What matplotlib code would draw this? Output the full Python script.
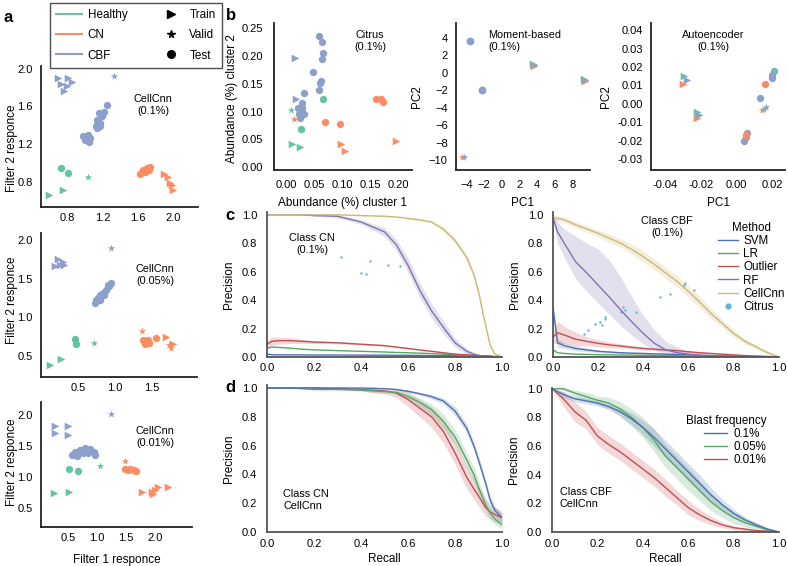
import numpy as np
import matplotlib
matplotlib.use("Agg")
import matplotlib.pyplot as plt
from matplotlib.lines import Line2D
from matplotlib.ticker import FormatStrFormatter

plt.rcParams['font.family'] = ['Liberation Sans', 'DejaVu Sans']

W, H = 788, 566

# ---------------- panel a : filter responses (x, y) ----------------
a1_cbf_train = [(0.69, 1.90), (0.81, 1.90), (0.73, 1.84), (0.85, 1.86), (0.80, 1.82), (0.76, 1.76)]
a1_cbf_valid = [(1.33, 1.92)]
a1_cbf_test = [(0.98, 1.28), (1.03, 1.30), (1.00, 1.24), (1.06, 1.26), (1.04, 1.22), (1.13, 1.37),
               (1.15, 1.41), (1.17, 1.42), (1.14, 1.46), (1.19, 1.50), (1.16, 1.53), (1.21, 1.54),
               (1.25, 1.62), (1.17, 1.39), (1.12, 1.39)]
a1_hea_train = [(0.59, 0.66), (0.75, 0.71)]
a1_hea_valid = [(1.03, 0.85)]
a1_hea_test = [(0.73, 0.94), (0.81, 0.89)]
a1_cn_train = [(1.90, 0.88), (1.94, 0.85), (1.96, 0.79), (1.99, 0.76), (2.00, 0.71)]
a1_cn_valid = [(1.70, 0.93)]
a1_cn_test = [(1.62, 0.88), (1.66, 0.92), (1.70, 0.94), (1.74, 0.96), (1.64, 0.90), (1.72, 0.92), (1.68, 0.90)]

a2_cbf_train = [(0.23, 1.76), (0.19, 1.66), (0.26, 1.68), (0.30, 1.71), (0.31, 1.68)]
a2_cbf_valid = [(0.95, 1.89)]
a2_cbf_test = [(0.73, 1.18), (0.78, 1.25), (0.80, 1.29), (0.84, 1.31), (0.89, 1.35), (0.91, 1.42),
               (0.95, 1.44), (0.80, 1.22), (0.75, 1.22), (0.86, 1.29), (0.93, 1.40), (0.82, 1.27)]
a2_hea_train = [(0.12, 0.38), (0.27, 0.46)]
a2_hea_valid = [(0.72, 0.67)]
a2_hea_test = [(0.46, 0.72), (0.48, 0.66)]
a2_cn_train = [(1.70, 0.75), (1.79, 0.66)]
a2_cn_valid = [(1.37, 0.82), (1.74, 0.64), (1.77, 0.61)]
a2_cn_test = [(1.38, 0.71), (1.43, 0.69), (1.41, 0.66), (1.47, 0.67), (1.56, 0.73), (1.45, 0.71)]

a3_cbf_train = [(0.28, 1.82), (0.50, 1.82), (0.28, 1.71), (0.50, 1.67)]
a3_cbf_valid = [(1.24, 2.01)]
a3_cbf_test = [(0.56, 1.35), (0.62, 1.41), (0.71, 1.44), (0.79, 1.46), (0.88, 1.45), (0.94, 1.41),
               (0.76, 1.38), (0.85, 1.38), (0.65, 1.33), (0.97, 1.35)]
a3_hea_train = [(0.25, 0.74), (0.51, 0.75)]
a3_hea_valid = [(1.05, 1.17)]
a3_hea_test = [(0.52, 1.12), (0.67, 1.09)]
a3_cn_train = [(1.77, 0.75), (1.94, 0.76), (2.06, 0.83), (2.23, 0.84), (1.97, 0.73), (2.00, 0.79)]
a3_cn_valid = [(1.49, 1.26)]
a3_cn_test = [(1.48, 1.12), (1.57, 1.12), (1.63, 1.11), (1.68, 1.10), (1.54, 1.11)]

# ---------------- panel b : Citrus / moment / autoencoder ----------------
b1_cbf_train = [(0.014, 0.197), (0.016, 0.123)]
b1_cbf_test = [(0.058, 0.236), (0.064, 0.225), (0.065, 0.206), (0.064, 0.195), (0.047, 0.171),
               (0.060, 0.152), (0.062, 0.155), (0.058, 0.138), (0.031, 0.133), (0.028, 0.116),
               (0.020, 0.106), (0.028, 0.106), (0.022, 0.096), (0.031, 0.096), (0.023, 0.088)]
b1_hea_train = [(0.010, 0.041), (0.023, 0.036)]
b1_hea_valid = [(0.008, 0.103)]
b1_hea_test = [(0.065, 0.123), (0.025, 0.069)]
b1_cn_train = [(0.098, 0.042), (0.105, 0.030), (0.196, 0.047)]
b1_cn_valid = [(0.013, 0.087)]
b1_cn_test = [(0.068, 0.082), (0.096, 0.077), (0.160, 0.123), (0.169, 0.123), (0.172, 0.118)]

b2_cbf_test = [(-3.66, 3.7), (-2.3, -1.9)]
b2_hea_train = [(3.5, 1.0), (9.3, -0.7)]
b2_cn_train = [(3.6, 0.8), (9.4, -0.9)]
b2_cbf_train = [(3.6, 0.9), (9.4, -0.8)]
b2_cn_valid = [(-4.5, -9.6)]
b2_cbf_valid = [(-4.3, -9.6)]

b3_hea_train = [(-0.0295, 0.0150), (-0.0222, -0.0045)]
b3_cbf_train = [(-0.0280, 0.0130), (-0.0210, -0.0060)]
b3_cn_train = [(-0.0300, 0.0110), (-0.0222, -0.0075)]
b3_hea_test = [(0.0210, 0.0180)]
b3_cbf_test = [(0.0200, 0.0155), (0.0195, 0.0140), (0.0130, 0.0030), (0.0060, -0.0160),
               (0.0050, -0.0180), (0.0040, -0.0200)]
b3_cn_test = [(0.0160, 0.0110), (0.0050, -0.0170)]
b3_cbf_valid = [(0.0165, -0.0015)]
b3_hea_valid = [(0.0155, -0.0030)]
b3_cn_valid = [(0.0140, -0.0035)]

# ---------------- panel c : precision-recall per method ----------------
c1_recall = [0, .02, .05, .1, .15, .2, .3, .4, .5, .55, .6, .65, .7, .75, .8, .85, .88, .9, .92, .95, .97, 1.0]
c1_cellcnn = [1.0, 1.0, 1.0, 1.0, 1.0, 1.0, 1.0, .995, .99, .985, .975, .965, .95, .90, .82, .70, .58, .46, .30, .08, .02, 0]
c1_cellcnn_err = [0, 0, 0, 0, 0, 0, 0, .003, .005, .005, .008, .01, .01, .015, .02, .02, .02, .02, .02, .01, .005, 0]
c1_rf = [1.0, 1.0, 1.0, 1.0, 1.0, .995, .99, .95, .88, .79, .645, .47, .325, .21, .10, .04, .02, .012, .008, .004, .002, 0]
c1_rf_err = [0, 0, 0, 0, 0, .005, .01, .015, .03, .04, .05, .05, .05, .045, .03, .02, .01, .008, .005, .003, .002, 0]
c1_outlier = [.09, .11, .115, .115, .11, .105, .10, .09, .08, .07, .06, .05, .04, .03, .02, .015, .012, .01, .008, .005, .003, 0]
c1_outlier_err = [.02, .03, .025, .02, .015, .01, .008, .006, .005, .005, .004, .004, .003, .003, .002, .002, .002, .002, .001, .001, .001, 0]
c1_lr = [.06, .07, .068, .062, .055, .05, .045, .04, .035, .032, .03, .027, .024, .02, .017, .013, .01, .008, .006, .004, .002, 0]
c1_svm = [.02, .016, .015, .015, .015, .014, .014, .013, .013, .012, .012, .011, .01, .01, .009, .008, .007, .006, .005, .004, .002, 0]
c1_citrus_r = [0.315, 0.44, 0.40, 0.42, 0.515, 0.568]
c1_citrus_p = [0.704, 0.675, 0.59, 0.585, 0.65, 0.637]

c2_recall = [0, .02, .05, .1, .15, .2, .25, .3, .35, .4, .45, .5, .55, .6, .65, .7, .75, .8, .85, .9, .95, 1.0]
c2_cellcnn = [.98, .975, .965, .93, .90, .87, .835, .80, .755, .705, .65, .59, .53, .46, .385, .305, .235, .165, .11, .07, .03, 0]
c2_cellcnn_err = [.02, .02, .02, .02, .025, .025, .03, .03, .035, .04, .04, .04, .04, .04, .04, .035, .03, .025, .02, .015, .01, 0]
c2_rf = [.98, .88, .80, .67, .59, .505, .42, .33, .245, .165, .095, .05, .03, .02, .012, .008, .006, .005, .004, .003, .002, 0]
c2_rf_lo = [.95, .80, .70, .55, .46, .38, .30, .22, .15, .09, .05, .02, .015, .01, .006, .004, .003, .002, .002, .001, .001, 0]
c2_rf_hi = [1.0, .95, .90, .85, .80, .76, .68, .56, .42, .29, .19, .11, .07, .04, .03, .02, .015, .01, .008, .006, .004, 0]
c2_outlier = [.14, .17, .155, .125, .11, .096, .085, .077, .068, .06, .055, .05, .045, .037, .03, .025, .02, .015, .01, .007, .004, 0]
c2_outlier_err = [.04, .08, .06, .05, .03, .025, .02, .015, .012, .01, .01, .008, .007, .006, .005, .004, .003, .003, .002, .002, .001, 0]
c2_svm = [.35, .10, .08, .06, .05, .04, .035, .03, .027, .025, .022, .02, .018, .015, .012, .01, .008, .006, .004, .003, .001, 0]
c2_svm_err = [.02, .03, .02, .015, .012, .01, .008, .007, .006, .005, .005, .004, .004, .003, .003, .002, .002, .002, .001, .001, .001, 0]
c2_lr = [.05, .03, .025, .02, .018, .016, .015, .014, .013, .012, .011, .01, .009, .008, .007, .006, .005, .004, .003, .002, .001, 0]
c2_citrus_r = [0.139, 0.157, 0.186, 0.207, 0.219, 0.229, 0.229, 0.301, 0.309, 0.32, 0.367, 0.475, 0.516, 0.58, 0.584, 0.623]
c2_citrus_p = [0.165, 0.193, 0.235, 0.247, 0.224, 0.282, 0.264, 0.318, 0.353, 0.334, 0.318, 0.424, 0.44, 0.506, 0.522, 0.47]

# ---------------- panel d : CellCnn by blast frequency ----------------
d1_recall = [0, .1, .2, .3, .4, .45, .5, .55, .6, .65, .7, .75, .8, .85, .88, .9, .93, .95, .97, 1.0]
d1_f01 = [1, 1, 1, 1, 1, .998, .995, .99, .977, .96, .94, .91, .84, .72, .60, .50, .34, .22, .15, .10]
d1_f01_err = [0, 0, 0, 0, 0, 0, 0, .005, .01, .01, .015, .02, .03, .03, .03, .03, .03, .03, .03, .03]
d1_f005 = [1, 1, .99, .99, .985, .98, .975, .97, .94, .90, .85, .77, .66, .50, .40, .31, .19, .13, .09, .05]
d1_f005_err = [0, 0, .005, .005, .005, .01, .01, .01, .02, .03, .04, .05, .05, .05, .05, .05, .04, .04, .04, .03]
d1_f001 = [1, 1, 1, .995, .99, .985, .98, .965, .92, .86, .80, .70, .55, .38, .30, .25, .17, .14, .12, .10]
d1_f001_err = [0, 0, 0, .005, .01, .02, .02, .03, .05, .06, .07, .08, .08, .08, .07, .07, .06, .05, .05, .04]

d2_recall = [0, .05, .1, .15, .2, .25, .3, .35, .4, .45, .5, .55, .6, .65, .7, .75, .8, .85, .9, .95, 1.0]
d2_f01 = [1.0, .96, .93, .915, .90, .875, .84, .79, .73, .66, .58, .50, .42, .34, .26, .19, .13, .085, .05, .02, 0]
d2_f01_err = [0, .02, .02, .02, .02, .02, .03, .04, .05, .06, .06, .06, .06, .06, .05, .04, .03, .02, .015, .01, 0]
d2_f005 = [1.0, 1.0, .97, .945, .92, .90, .86, .80, .73, .64, .53, .45, .37, .29, .21, .15, .10, .065, .04, .015, 0]
d2_f005_err = [0, .01, .02, .03, .03, .04, .05, .06, .07, .08, .08, .08, .08, .07, .06, .05, .04, .03, .02, .01, 0]
d2_f001 = [1.0, .93, .84, .78, .67, .61, .56, .50, .44, .38, .31, .24, .17, .12, .08, .05, .03, .02, .01, .005, 0]
d2_f001_err = [0, .05, .07, .06, .06, .06, .06, .06, .06, .06, .06, .05, .05, .04, .03, .02, .015, .01, .005, .003, 0]

# colours
green, orange, blue = '#66c2a5', '#fc8d62', '#8da0cb'
c_svm, c_lr, c_out, c_rf, c_cnn, c_cit = '#4c72b0', '#55a868', '#c44e52', '#8172b2', '#ccb974', '#64b5cd'

TICK = 8.0
LAB = 8.5
ANN = 7.8


def box(l, t, r, b):
    return [l / W, 1 - b / H, (r - l) / W, (b - t) / H]


def style(ax, xpad=4, ypad=6, color='#222222'):
    for s in ['top', 'right']:
        ax.spines[s].set_visible(False)
    for s in ['left', 'bottom']:
        ax.spines[s].set_color(color)
        ax.spines[s].set_linewidth(1.3)
    ax.tick_params(axis='x', length=0, labelsize=TICK, pad=xpad)
    ax.tick_params(axis='y', length=0, labelsize=TICK, pad=ypad)


def pts(ax, data, color, marker, s):
    if not data:
        return
    arr = np.array(data)
    ax.scatter(arr[:, 0], arr[:, 1], c=color, marker=marker, s=s, linewidths=0, zorder=3)


def group(ax, tr, va, te, color):
    pts(ax, tr, color, '>', 30)
    pts(ax, va, color, '*', 32)
    pts(ax, te, color, 'o', 28)


def curve(ax, rec, mean, err, color):
    rec, mean, err = np.array(rec), np.array(mean), np.array(err)
    ax.fill_between(rec, mean - err, mean + err, color=color, alpha=0.22, lw=0)
    ax.plot(rec, mean, color=color, lw=1)


def ftext(x, y, s, ha='center', size=ANN):
    fig.text(x / W, 1 - y / H, s, ha=ha, va='center', fontsize=size, linespacing=1.35)


fig = plt.figure(figsize=(W / 100, H / 100), dpi=100)

# ---- a ----
a_boxes = [(41, 66, 198, 207), (41, 233, 197, 377), (41, 402, 192, 527)]
a_lims = [((0.5, 2.28), (0.53, 2.03)), ((0.0, 2.12), (0.23, 2.09)), ((0.03, 2.64), (0.19, 2.21))]
a_xt = [[0.8, 1.2, 1.6, 2.0], [0.5, 1.0, 1.5], [0.5, 1.0, 1.5, 2.0]]
a_yt = [[0.8, 1.2, 1.6, 2.0], [0.5, 1.0, 1.5, 2.0], [0.5, 1.0, 1.5, 2.0]]
a_sets = [
    (a1_hea_train, a1_hea_valid, a1_hea_test, a1_cn_train, a1_cn_valid, a1_cn_test, a1_cbf_train, a1_cbf_valid, a1_cbf_test),
    (a2_hea_train, a2_hea_valid, a2_hea_test, a2_cn_train, a2_cn_valid, a2_cn_test, a2_cbf_train, a2_cbf_valid, a2_cbf_test),
    (a3_hea_train, a3_hea_valid, a3_hea_test, a3_cn_train, a3_cn_valid, a3_cn_test, a3_cbf_train, a3_cbf_valid, a3_cbf_test),
]
a_label_y = [148, 300, 462]
for i in range(3):
    ax = fig.add_axes(box(*a_boxes[i]))
    style(ax, xpad=4, ypad=6)
    d = a_sets[i]
    group(ax, d[0], d[1], d[2], green)
    group(ax, d[3], d[4], d[5], orange)
    group(ax, d[6], d[7], d[8], blue)
    ax.set_xlim(*a_lims[i][0])
    ax.set_ylim(*a_lims[i][1])
    ax.set_xticks(a_xt[i])
    ax.set_yticks(a_yt[i])
    ax.xaxis.set_major_formatter(FormatStrFormatter('%.1f'))
    ax.yaxis.set_major_formatter(FormatStrFormatter('%.1f'))
    ax.set_ylabel('Filter 2 responce', fontsize=LAB)
    ax.yaxis.set_label_coords(18 / W, 1 - a_label_y[i] / H, transform=fig.transFigure)
    if i == 2:
        ax.set_xlabel('Filter 1 responce', fontsize=LAB, labelpad=8)

ftext(153, 105, 'CellCnn\n(0.1%)')
ftext(155, 275, 'CellCnn\n(0.05%)')
ftext(155, 437, 'CellCnn\n(0.01%)')

handles = [Line2D([], [], color=green, lw=1.5), Line2D([], [], color=orange, lw=1.5),
           Line2D([], [], color=blue, lw=1.5),
           Line2D([], [], color='k', marker='>', ls='none', ms=5.5),
           Line2D([], [], color='k', marker='*', ls='none', ms=5.5),
           Line2D([], [], color='k', marker='o', ls='none', ms=5.5)]
leg = fig.legend(handles, ['Healthy', 'CN', 'CBF', 'Train', 'Valid', 'Test'], ncol=2,
                 loc='upper left', bbox_to_anchor=(44 / W, 1 + 3 / H), fontsize=8.4,
                 frameon=True, fancybox=False, edgecolor='#222222', handlelength=2.2,
                 columnspacing=2.6, labelspacing=0.7, borderpad=0.55, handletextpad=0.5)
leg.get_frame().set_linewidth(1.0)

# ---- b ----
ax = fig.add_axes(box(274, 23, 412, 170))
style(ax, xpad=7, ypad=8)
group(ax, b1_hea_train, b1_hea_valid, b1_hea_test, green)
group(ax, b1_cn_train, b1_cn_valid, b1_cn_test, orange)
group(ax, b1_cbf_train, [], b1_cbf_test, blue)
ax.set_xlim(-0.023, 0.225)
ax.set_ylim(-0.005, 0.259)
ax.set_xticks([0, 0.05, 0.10, 0.15, 0.20])
ax.set_yticks([0, 0.05, 0.10, 0.15, 0.20, 0.25])
ax.xaxis.set_major_formatter(FormatStrFormatter('%.2f'))
ax.yaxis.set_major_formatter(FormatStrFormatter('%.2f'))
ax.set_xlabel('Abundance (%) cluster 1', fontsize=LAB, labelpad=5)
ax.set_ylabel('Abundance (%) cluster 2', fontsize=LAB)
ax.yaxis.set_label_coords(238 / W, 1 - 99 / H, transform=fig.transFigure)
ftext(370, 41, 'Citrus\n(0.1%)')

ax = fig.add_axes(box(456, 23, 590, 170))
style(ax, xpad=7, ypad=6)
pts(ax, b2_hea_train, green, '>', 30)
pts(ax, b2_cn_train, orange, '>', 30)
pts(ax, b2_cbf_train, '#9aa3b8', '>', 30)
pts(ax, b2_cn_valid, orange, '*', 32)
pts(ax, b2_cbf_valid, blue, '*', 32)
pts(ax, b2_cbf_test, blue, 'o', 32)
ax.set_xlim(-5.2, 10)
ax.set_ylim(-11.1, 5.7)
ax.set_xticks([-4, -2, 0, 2, 4, 6, 8])
ax.set_yticks([4, 2, 0, -2, -4, -6, -8, -10])
ax.set_xlabel('PC1', fontsize=LAB, labelpad=5)
ax.set_ylabel('PC2', fontsize=LAB, labelpad=4)
ftext(488, 41, 'Moment-based\n(0.1%)', ha='left')

ax = fig.add_axes(box(651, 23, 785, 170))
style(ax, xpad=7, ypad=6)
pts(ax, b3_cn_train, orange, '>', 30)
pts(ax, b3_hea_train, green, '>', 30)
pts(ax, b3_cbf_train, blue, '>', 30)
pts(ax, b3_hea_test, green, 'o', 28)
pts(ax, b3_cbf_test, blue, 'o', 28)
pts(ax, b3_cn_test, orange, 'o', 28)
pts(ax, b3_cn_valid, orange, '*', 32)
pts(ax, b3_hea_valid, green, '*', 32)
pts(ax, b3_cbf_valid, blue, '*', 32)
ax.set_xlim(-0.048, 0.027)
ax.set_ylim(-0.036, 0.044)
ax.set_xticks([-0.04, -0.02, 0.0, 0.02])
ax.set_yticks([0.04, 0.03, 0.02, 0.01, 0.0, -0.01, -0.02, -0.03])
ax.xaxis.set_major_formatter(FormatStrFormatter('%.2f'))
ax.yaxis.set_major_formatter(FormatStrFormatter('%.2f'))
ax.set_xlabel('PC1', fontsize=LAB, labelpad=5)
ax.set_ylabel('PC2', fontsize=LAB, labelpad=4)
ftext(713, 41, 'Autoencoder\n(0.1%)')

# ---- c ----
ax = fig.add_axes(box(267, 212, 502, 357))
style(ax, xpad=4, ypad=7, color='#555555')
curve(ax, c1_recall, c1_svm, np.zeros(len(c1_recall)), c_svm)
curve(ax, c1_recall, c1_lr, np.zeros(len(c1_recall)), c_lr)
curve(ax, c1_recall, c1_outlier, c1_outlier_err, c_out)
curve(ax, c1_recall, c1_rf, c1_rf_err, c_rf)
curve(ax, c1_recall, c1_cellcnn, c1_cellcnn_err, c_cnn)
ax.scatter(c1_citrus_r, c1_citrus_p, s=3, c=c_cit, linewidths=0)
ax_c1 = ax

ax = fig.add_axes(box(553, 212, 779, 357))
style(ax, xpad=4, ypad=7, color='#555555')
curve(ax, c2_recall, c2_svm, c2_svm_err, c_svm)
curve(ax, c2_recall, c2_lr, np.zeros(len(c2_recall)), c_lr)
curve(ax, c2_recall, c2_outlier, c2_outlier_err, c_out)
ax.fill_between(c2_recall, c2_rf_lo, c2_rf_hi, color=c_rf, alpha=0.22, lw=0)
ax.plot(c2_recall, c2_rf, color=c_rf, lw=1)
curve(ax, c2_recall, c2_cellcnn, c2_cellcnn_err, c_cnn)
ax.scatter(c2_citrus_r, c2_citrus_p, s=3, c=c_cit, linewidths=0)
ax_c2 = ax

for ax in (ax_c1, ax_c2):
    ax.set_xlim(0, 1)
    ax.set_ylim(0, 1.02)
    ax.set_xticks(np.arange(0, 1.01, 0.2))
    ax.set_yticks(np.arange(0, 1.01, 0.2))
    ax.xaxis.set_major_formatter(FormatStrFormatter('%.1f'))
    ax.yaxis.set_major_formatter(FormatStrFormatter('%.1f'))
    ax.set_ylabel('Precision', fontsize=LAB, labelpad=5)

ftext(312, 244, 'Class CN\n(0.1%)')
ftext(667, 227, 'Class CBF\n(0.1%)')

mh = [Line2D([], [], color=c, lw=1) for c in (c_svm, c_lr, c_out, c_rf, c_cnn)]
mh.append(Line2D([], [], color=c_cit, marker='o', ls='none', ms=3.5))
fig.legend(mh, ['SVM', 'LR', 'Outlier', 'RF', 'CellCnn', 'Citrus'], title='Method',
           loc='upper left', bbox_to_anchor=(712 / W, 1 - 216 / H), frameon=False,
           fontsize=8.4, title_fontsize=8.4, labelspacing=0.1, handlelength=1.7,
           handletextpad=0.5, borderpad=0)

# ---- d ----
ax = fig.add_axes(box(267, 385, 502, 532))
style(ax, xpad=5, ypad=7, color='#555555')
curve(ax, d1_recall, d1_f001, d1_f001_err, c_out)
curve(ax, d1_recall, d1_f005, d1_f005_err, c_lr)
curve(ax, d1_recall, d1_f01, d1_f01_err, c_svm)
ax_d1 = ax

ax = fig.add_axes(box(552, 388, 779, 532))
style(ax, xpad=5, ypad=7, color='#555555')
curve(ax, d2_recall, d2_f001, d2_f001_err, c_out)
curve(ax, d2_recall, d2_f005, d2_f005_err, c_lr)
curve(ax, d2_recall, d2_f01, d2_f01_err, c_svm)
ax_d2 = ax

for ax in (ax_d1, ax_d2):
    ax.set_xlim(0, 1)
    ax.set_ylim(0, 1.0 + (3 / 144 if ax is ax_d1 else 0.005))
    ax.set_xticks(np.arange(0, 1.01, 0.2))
    ax.set_yticks(np.arange(0, 1.01, 0.2))
    ax.xaxis.set_major_formatter(FormatStrFormatter('%.1f'))
    ax.yaxis.set_major_formatter(FormatStrFormatter('%.1f'))
    ax.set_ylabel('Precision', fontsize=LAB, labelpad=5)
    ax.set_xlabel('Recall', fontsize=LAB, labelpad=3)

ftext(283, 500, 'Class CN\nCellCnn', ha='left')
ftext(560, 498, 'Class CBF\nCellCnn', ha='left')

bh = [Line2D([], [], color=c, lw=1) for c in (c_svm, c_lr, c_out)]
fig.legend(bh, ['0.1%', '0.05%', '0.01%'], title='Blast frequency', alignment='right',
           loc='upper right', bbox_to_anchor=(772 / W, 1 - 409 / H), frameon=False,
           fontsize=8.4, title_fontsize=8.4, labelspacing=0.1, handlelength=2.0,
           handletextpad=0.5, borderpad=0)

# panel letters
for letter, x, y in [('a', 8, 18), ('b', 231, 16), ('c', 230, 215), ('d', 230, 388)]:
    fig.text(x / W, 1 - y / H, letter, fontsize=12, fontweight='bold', ha='center', va='center')

fig.savefig('out.png', dpi=100)
